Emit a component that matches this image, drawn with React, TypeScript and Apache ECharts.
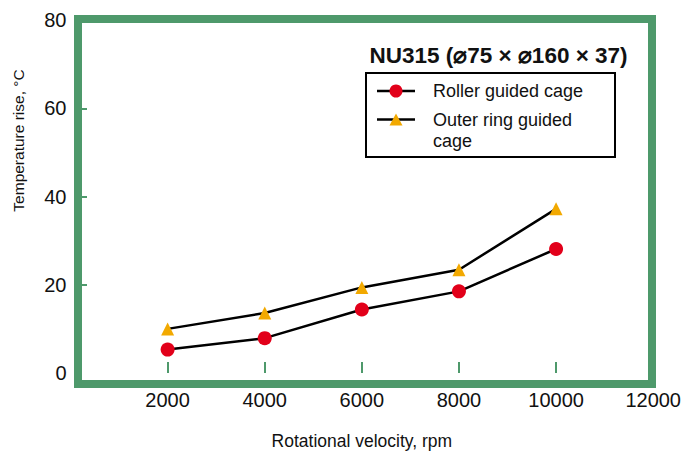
import React, { useEffect, useRef } from "react";
import * as echarts from "echarts";

const velocities = [2000, 4000, 6000, 8000, 10000];
const rollerGuided = [5.3, 7.9, 14.4, 18.5, 28.1];
const outerRingGuided = [10.0, 13.6, 19.4, 23.4, 37.2];
const xTickLabels = [2000, 4000, 6000, 8000, 10000, 12000];
const xTickMarks = [2000, 4000, 6000, 8000, 10000];
const yTickLabels = [0, 20, 40, 60, 80];
const yTickMarks = [20, 40, 60];

const titleText = "NU315 (\u230075 \u00d7 \u2300160 \u00d7 37)";
const seriesNames = ["Roller guided cage", "Outer ring guided\ncage"];
const xName = "Rotational velocity, rpm";
const yName = "Temperature rise, \u00b0C";

const GREEN = "#4e996b";
const RED = "#e2001a";
const ORANGE = "#f2a900";
const FONT = "Liberation Sans, Arial, Helvetica, sans-serif";
const TEXT = "#111111";

export default function App() {
  const ref = useRef<HTMLDivElement>(null);
  useEffect(() => {
    if (!ref.current) return;
    const chart = echarts.init(ref.current, null, { renderer: "svg" });
    chart.setOption({
      animation: false,
      backgroundColor: "#ffffff",
      textStyle: { fontFamily: FONT },
      grid: { left: 70.5, right: 28.5, top: 20, bottom: 75 },
      xAxis: {
        type: "value",
        min: 0,
        max: 12000,
        interval: 2000,
        name: xName,
        nameLocation: "middle",
        nameGap: 59,
        nameTextStyle: { fontSize: 17.5, color: TEXT, fontFamily: FONT },
        axisLine: { show: false },
        splitLine: { show: false },
        axisTick: {
          show: true,
          inside: true,
          length: 11,
          customValues: xTickMarks,
          lineStyle: { color: GREEN, width: 2 },
        },
        axisLabel: {
          customValues: xTickLabels,
          formatter: (v: number) => String(v),
          fontSize: 20,
          color: TEXT,
          margin: 17,
          fontFamily: FONT,
        },
      },
      yAxis: {
        type: "value",
        min: 0,
        max: 80,
        interval: 20,
        offset: -11.5,
        axisLine: { show: false },
        splitLine: { show: false },
        axisTick: {
          show: true,
          inside: true,
          length: 5,
          customValues: yTickMarks,
          lineStyle: { color: GREEN, width: 2 },
        },
        axisLabel: {
          customValues: yTickLabels,
          formatter: (v: number) => String(v),
          fontSize: 20,
          color: TEXT,
          margin: 15.5,
          fontFamily: FONT,
        },
      },
      series: [
        {
          name: seriesNames[0],
          type: "line",
          data: velocities.map((v, i) => [v, rollerGuided[i]]),
          symbol: "circle",
          symbolSize: 14,
          lineStyle: { color: "#000000", width: 2.5 },
          itemStyle: { color: RED },
          z: 3,
        },
        {
          name: seriesNames[1],
          type: "line",
          data: velocities.map((v, i) => [v, outerRingGuided[i]]),
          symbol: "triangle",
          symbolSize: 13,
          lineStyle: { color: "#000000", width: 2.5 },
          itemStyle: { color: ORANGE },
          z: 3,
        },
      ],
      graphic: [
        {
          type: "rect",
          z: 100,
          shape: { x: 78, y: 19, width: 574, height: 365 },
          style: { fill: "none", stroke: GREEN, lineWidth: 8 },
          silent: true,
        },
        {
          type: "text",
          z: 100,
          x: 18,
          y: 140.5,
          rotation: Math.PI / 2,
          style: {
            text: yName,
            fontSize: 15.5,
            fontFamily: FONT,
            fill: TEXT,
            align: "center",
            verticalAlign: "middle",
          },
        },
        {
          type: "text",
          z: 100,
          x: 498.5,
          y: 55,
          style: {
            text: titleText,
            fontSize: 22.5,
            fontWeight: "bold",
            fontFamily: FONT,
            fill: TEXT,
            align: "center",
            verticalAlign: "middle",
          },
        },
        {
          type: "rect",
          z: 100,
          shape: { x: 366, y: 73, width: 249, height: 84 },
          style: { fill: "#ffffff", stroke: "#000000", lineWidth: 2 },
        },
        {
          type: "line",
          z: 101,
          shape: { x1: 377, y1: 91, x2: 415, y2: 91 },
          style: { stroke: "#000000", lineWidth: 2.5 },
        },
        {
          type: "circle",
          z: 102,
          shape: { cx: 396, cy: 91, r: 6.5 },
          style: { fill: RED },
        },
        {
          type: "line",
          z: 101,
          shape: { x1: 377, y1: 119.5, x2: 415, y2: 119.5 },
          style: { stroke: "#000000", lineWidth: 2.5 },
        },
        {
          type: "polygon",
          z: 102,
          shape: {
            points: [
              [396, 113.5],
              [389.5, 125.5],
              [402.5, 125.5],
            ],
          },
          style: { fill: ORANGE },
        },
        {
          type: "text",
          z: 102,
          x: 433,
          y: 91,
          style: {
            text: seriesNames[0],
            fontSize: 18,
            fontFamily: FONT,
            fill: TEXT,
            align: "left",
            verticalAlign: "middle",
          },
        },
        {
          type: "text",
          z: 102,
          x: 433,
          y: 109,
          style: {
            text: seriesNames[1],
            fontSize: 18,
            lineHeight: 21.5,
            fontFamily: FONT,
            fill: TEXT,
            align: "left",
            verticalAlign: "top",
          },
        },
      ],
    });
    return () => chart.dispose();
  }, []);
  return (
    <div
      ref={ref}
      style={{ position: "absolute", left: 0, top: 0, width: 684, height: 455 }}
    />
  );
}
